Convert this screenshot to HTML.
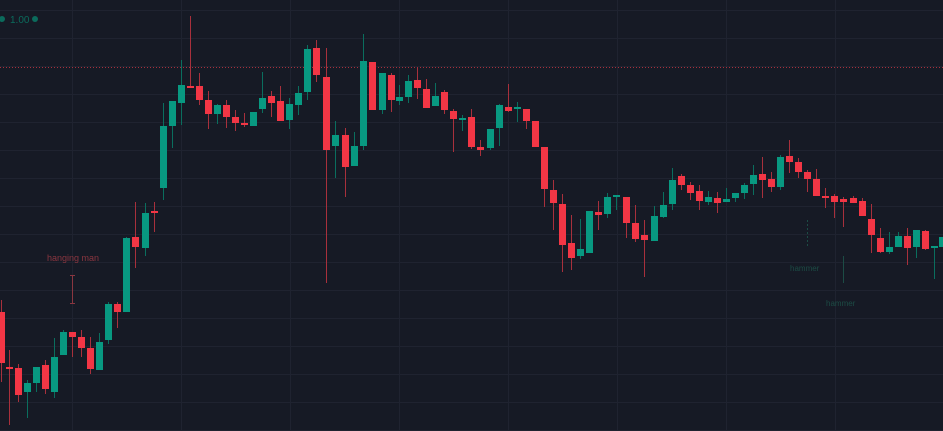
<!DOCTYPE html>
<html><head><meta charset="utf-8"><style>
html,body{margin:0;padding:0;background:#161a25;width:943px;height:431px;overflow:hidden}
svg{display:block}
text{font-family:"Liberation Sans",sans-serif}
</style></head><body>
<svg id="c" width="943" height="431" viewBox="0 0 943 431" xmlns="http://www.w3.org/2000/svg">
<rect width="943" height="431" fill="#161a25"/>
<g id="grid" stroke="#1f2330" stroke-width="1"></g>
<line x1="0" y1="67.5" x2="943" y2="67.5" stroke="#a8303c" stroke-width="1" stroke-dasharray="1,2"/>
<g id="cs"></g>
<text x="10" y="23" fill="#0b6b5c" font-size="10">1.00</text>
<circle cx="2" cy="19" r="3" fill="#0b6b5c"/>
<circle cx="35" cy="19" r="3" fill="#0b6b5c"/>
<text x="47" y="261" fill="#8a3640" font-size="9">hanging man</text>
<line x1="72.5" y1="275" x2="72.5" y2="304" stroke="#8a3640"/>
<line x1="70" y1="275.5" x2="75" y2="275.5" stroke="#8a3640"/>
<line x1="70" y1="303.5" x2="75" y2="303.5" stroke="#8a3640"/>
<line x1="807.5" y1="220" x2="807.5" y2="248" stroke="#1c4c45" stroke-dasharray="2,2"/>
<text x="790" y="271" fill="#1c4c45" font-size="8">hammer</text>
<line x1="843.5" y1="256" x2="843.5" y2="283" stroke="#1c4c45"/>
<text x="826" y="306" fill="#1c4c45" font-size="8">hammer</text>
</svg>
<script>
var d=[
[1,'r',312,363,300,382],[9,'r',367,369,350,425],[18,'r',368,395,364,402],[27,'g',392,383,380,418],[36,'g',383,367,367,392],[45,'r',365,389,360,394],[54,'g',392,357,338,398],[63,'g',355,332,330,355],[72,'r',332,337,332,357],[81,'r',337,348,330,357],[90,'r',348,369,337,374],[99,'g',370,342,333,370],[108,'g',340,304,302,344],[117,'r',304,312,302,328],[126,'g',312,238,237,312],[135,'r',237,247,202,268],[145,'g',248,213,203,256],[154,'r',211,213,202,232],[163,'g',188,126,103,200],[172,'g',126,101,101,148],[181,'g',103,85,60,125],[190,'r',86,88,16,88],[199,'r',86,100,73,105],[208,'r',100,114,91,129],[217,'g',114,105,104,124],[226,'r',105,117,100,128],[235,'r',117,123,110,131],[244,'r',123,125,113,127],[253,'g',126,112,112,126],[262,'g',109,98,72,113],[271,'r',96,103,91,117],[280,'r',101,121,86,121],[289,'g',120,104,98,129],[298,'g',105,93,86,115],[307,'g',92,49,45,100],[316,'r',48,75,40,82],
[326,'r',77,150,48,283],[335,'g',146,135,121,178],[345,'r',135,167,128,197],[354,'g',166,146,132,166],[363,'g',146,61,34,150],[372,'r',62,110,62,110],[382,'g',110,73,73,114],[391,'r',75,100,73,112],[399,'g',101,97,85,105],[408,'g',97,81,75,103],[417,'r',80,88,67,99],[426,'r',89,108,79,108],[435,'g',106,96,83,106],[444,'r',92,110,90,114],[453,'r',111,119,109,152],[462,'g',120,118,115,131],[471,'r',117,147,109,149],[480,'r',147,150,140,156],[490,'g',148,129,129,150],[499,'g',128,105,104,146],[508,'r',107,111,84,112],[517,'g',109,107,102,122],[526,'r',109,121,109,129],[535,'r',121,147,121,147],[544,'r',147,189,147,207],[553,'r',190,203,180,230],[562,'r',204,245,194,272],[571,'r',243,258,215,270],[580,'g',256,249,219,259],[589,'g',253,211,211,253],[598,'r',212,215,201,230],[607,'g',214,197,193,218],[616,'g',197,195,195,210],[626,'r',197,223,197,238],[635,'r',223,239,205,242],[644,'r',235,240,220,277],[654,'g',241,216,206,241],[663,'g',217,205,192,218],[672,'g',204,180,168,210],[681,'r',176,185,174,190],[690,'r',185,193,182,200],[699,'r',191,201,185,210],[708,'g',202,197,191,205],[717,'r',198,203,192,213],[726,'g',202,199,188,202],[735,'g',198,193,193,202],[744,'g',193,185,183,199],[753,'g',184,175,165,195],[762,'r',174,180,157,198],[771,'r',179,187,172,192],[780,'g',187,157,155,190],[789,'r',156,162,140,173],[798,'r',162,172,158,178],[807,'r',172,179,170,192],[816,'r',179,196,169,196],[825,'r',196,198,188,208],[834,'r',196,202,194,218],[843,'r',199,202,197,227],[853,'r',198,203,196,203],[862,'r',201,216,198,216],[871,'r',219,235,204,253],[880,'r',238,252,228,253],[889,'g',252,247,232,254],[898,'g',247,236,232,247],[907,'r',236,248,228,265],[916,'g',247,230,230,258],[925,'r',231,249,230,250],[934,'g',248,246,246,279],[942,'g',247,237,237,247]];
var ns='http://www.w3.org/2000/svg',g=document.getElementById('cs'),gr=document.getElementById('grid');
function el(p,t,a){var e=document.createElementNS(ns,t);for(var k in a)e.setAttribute(k,a[k]);p.appendChild(e);}
[72,181,290,399,508,617,726,835].forEach(function(x){el(gr,'line',{x1:x+.5,y1:0,x2:x+.5,y2:431});});
for(var y=10;y<431;y+=28)el(gr,'line',{x1:0,y1:y+.5,x2:943,y2:y+.5});
d.forEach(function(c){var col=c[1]=='g'?'#089981':'#f23645',wc=c[1]=='g'?'#0a6e5e':'#a8303c';
var t=Math.min(c[2],c[3]),b=Math.max(c[2],c[3]);
el(g,'line',{x1:c[0]+.5,y1:c[4],x2:c[0]+.5,y2:c[5],stroke:wc,'stroke-width':1});
el(g,'rect',{x:c[0]-3,y:t,width:7,height:Math.max(2,b-t),fill:col});});
</script>
</body></html>
